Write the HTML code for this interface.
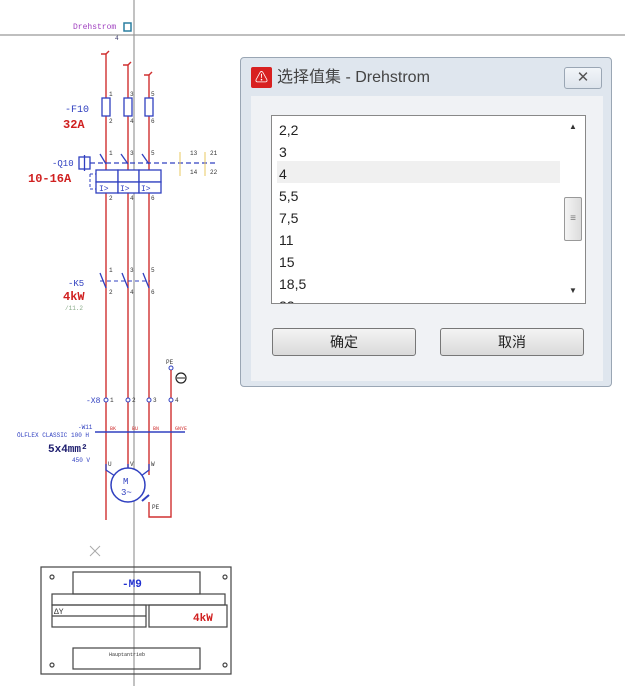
<!DOCTYPE html>
<html><head><meta charset="utf-8"><style>
body{margin:0;width:625px;height:686px;background:#fff;overflow:hidden;position:relative;font-family:"Liberation Sans","Noto Sans CJK SC",sans-serif}
svg{position:absolute;left:0;top:0}
</style></head><body>
<svg width="625" height="686" viewBox="0 0 625 686" font-family="Liberation Mono, monospace">
<line x1="0" y1="35" x2="625" y2="35" stroke="#999" stroke-width="1.2"/>
<line x1="134" y1="0" x2="134" y2="686" stroke="#999" stroke-width="1.2"/>
<text x="73" y="29" font-size="8" fill="#a040c0">Drehstrom</text>
<rect x="124" y="23" width="7" height="8" fill="none" stroke="#2a7fa0" stroke-width="1.5"/>
<text x="115" y="40" font-size="6" fill="#336">4</text>
<g stroke="#d03030" stroke-width="1.4" fill="none">
<path d="M101 54 L106 54 L106 520"/><path d="M106 54 L109 51"/>
<path d="M123 65 L128 65 L128 470"/><path d="M128 65 L131 62"/>
<path d="M144 75 L149 75 L149 475"/><path d="M149 75 L152 72"/>
<path d="M171 400 L171 517 L149 517 L149 502"/>
</g>
<g stroke="#3040c0" stroke-width="1.3" fill="#fff">
<rect x="102" y="98" width="8" height="18"/><rect x="124" y="98" width="8" height="18"/><rect x="145" y="98" width="8" height="18"/>
</g>
<g font-size="6" fill="#333"><text x="109" y="96">1</text><text x="130" y="96">3</text><text x="151" y="96">5</text>
<text x="109" y="123">2</text><text x="130" y="123">4</text><text x="151" y="123">6</text></g>
<text x="65" y="112" font-size="10" fill="#3040c0">-F10</text>
<text x="63" y="128" font-size="12" font-weight="bold" fill="#d02020">32A</text>
<line x1="90" y1="163" x2="216" y2="163" stroke="#3040c0" stroke-width="1.3" stroke-dasharray="5,3"/>
<rect x="79" y="157" width="11" height="12" fill="#fff" stroke="#3040c0" stroke-width="1.3"/>
<line x1="84.5" y1="155" x2="84.5" y2="171" stroke="#3040c0" stroke-width="1.3"/>
<text x="52" y="166" font-size="9" fill="#3040c0">-Q10</text>
<text x="28" y="182" font-size="12" font-weight="bold" fill="#d02020">10-16A</text>
<g stroke="#3040c0" stroke-width="1.3">
<line x1="100" y1="154" x2="106" y2="164"/><line x1="121" y1="154" x2="128" y2="164"/><line x1="142" y1="154" x2="149" y2="164"/>
</g>
<g fill="#fff" stroke="#3040c0" stroke-width="1.3">
<rect x="96" y="170" width="22" height="12"/><rect x="118" y="170" width="21" height="12"/><rect x="139" y="170" width="22" height="12"/>
<rect x="96" y="182" width="22" height="11"/><rect x="118" y="182" width="21" height="11"/><rect x="139" y="182" width="22" height="11"/>
</g>
<path d="M90 174 L96 174 M90 174 L90 189 L96 189" stroke="#3040c0" stroke-dasharray="3,2" fill="none"/>
<g font-size="8" fill="#3040c0"><text x="99" y="191">I&gt;</text><text x="120" y="191">I&gt;</text><text x="141" y="191">I&gt;</text></g>
<g font-size="6" fill="#333"><text x="109" y="155">1</text><text x="130" y="155">3</text><text x="151" y="155">5</text>
<text x="109" y="200">2</text><text x="130" y="200">4</text><text x="151" y="200">6</text>
<text x="190" y="155">13</text><text x="210" y="155">21</text><text x="190" y="174">14</text><text x="210" y="174">22</text></g>
<g stroke="#e8c860" stroke-width="1"><line x1="180" y1="152" x2="180" y2="176"/><line x1="205" y1="152" x2="205" y2="176"/></g>
<line x1="100" y1="281" x2="150" y2="281" stroke="#3040c0" stroke-dasharray="4,3"/>
<g stroke="#3040c0" stroke-width="1.3" fill="none"><line x1="100" y1="273" x2="106" y2="288"/><line x1="122" y1="273" x2="128" y2="288"/><line x1="143" y1="273" x2="149" y2="288"/></g>
<g font-size="6" fill="#333"><text x="109" y="272">1</text><text x="130" y="272">3</text><text x="151" y="272">5</text>
<text x="109" y="294">2</text><text x="130" y="294">4</text><text x="151" y="294">6</text></g>
<text x="68" y="286" font-size="9" fill="#3040c0">-K5</text>
<text x="63" y="300" font-size="12" font-weight="bold" fill="#d02020">4kW</text>
<text x="65" y="310" font-size="6" fill="#8a8">/11.2</text>
<text x="166" y="364" font-size="6" fill="#333">PE</text>
<circle cx="171" cy="368" r="2" fill="#fff" stroke="#3040c0"/>
<line x1="171" y1="370" x2="171" y2="400" stroke="#d03030" stroke-width="1.4"/>
<circle cx="181" cy="378" r="5" fill="#fff" stroke="#222" stroke-width="1.2"/>
<line x1="177" y1="378" x2="185" y2="378" stroke="#222"/>
<text x="86" y="403" font-size="8" fill="#3040c0">-X8</text>
<g fill="#fff" stroke="#3040c0"><circle cx="106" cy="400" r="2"/><circle cx="128" cy="400" r="2"/><circle cx="149" cy="400" r="2"/><circle cx="171" cy="400" r="2"/></g>
<g font-size="6" fill="#333"><text x="110" y="402">1</text><text x="132" y="402">2</text><text x="153" y="402">3</text><text x="175" y="402">4</text></g>
<line x1="95" y1="432" x2="185" y2="432" stroke="#3040c0" stroke-width="1.5"/>
<g font-size="5" fill="#d03030"><text x="110" y="430">BK</text><text x="132" y="430">BU</text><text x="153" y="430">BN</text><text x="175" y="430">GNYE</text></g>
<text x="78" y="429" font-size="6" fill="#3040c0">-W11</text>
<text x="17" y="437" font-size="6" fill="#3040c0">ÖLFLEX CLASSIC 100 H</text>
<text x="48" y="452" font-size="11" font-weight="bold" fill="#202070">5x4mm²</text>
<text x="72" y="462" font-size="6" fill="#3040c0">450 V</text>
<g stroke="#3040c0" stroke-width="1.3" fill="none"><path d="M106 464 L106 470 L115 476"/><path d="M128 464 L128 468"/><path d="M149 464 L149 470 L141 476"/></g>
<g font-size="6" fill="#333"><text x="108" y="466">U</text><text x="130" y="466">V</text><text x="151" y="466">W</text></g>
<circle cx="128" cy="485" r="17" fill="#fff" stroke="#3040c0" stroke-width="1.5"/>
<text x="123" y="484" font-size="9" fill="#3040c0">M</text><text x="121" y="495" font-size="9" fill="#3040c0">3~</text>
<line x1="142" y1="501" x2="149" y2="495" stroke="#3040c0" stroke-width="2"/>
<text x="152" y="509" font-size="6" fill="#333">PE</text>
<g stroke="#aaa"><line x1="90" y1="546" x2="100" y2="556"/><line x1="100" y1="546" x2="90" y2="556"/></g>
<g fill="none" stroke="#444" stroke-width="1.2">
<rect x="41" y="567" width="190" height="107"/>
<rect x="73" y="572" width="127" height="22"/>
<rect x="52" y="594" width="173" height="11"/>
<rect x="52" y="605" width="94" height="22"/><line x1="52" y1="616" x2="146" y2="616"/>
<rect x="149" y="605" width="78" height="22"/>
<rect x="73" y="648" width="127" height="21"/>
<circle cx="52" cy="577" r="2"/><circle cx="225" cy="577" r="2"/><circle cx="52" cy="665" r="2"/><circle cx="225" cy="665" r="2"/>
</g>
<text x="122" y="587" font-size="11" font-weight="bold" fill="#2030d0">-M9</text>
<text x="54" y="614" font-size="8" fill="#333">ΔY</text>
<text x="193" y="621" font-size="11" font-weight="bold" fill="#d02020">4kW</text>
<text x="109" y="656" font-size="5" fill="#333">Hauptantrieb</text>
</svg>

<div style="position:absolute;left:240px;top:57px;width:372px;height:330px;background:#dfe6ee;border:1px solid #9aa6b4;border-radius:4px;box-sizing:border-box">
 <div style="position:absolute;left:10px;top:9px;width:21px;height:21px;background:#d82020;border-radius:2px;color:#fff;font-size:13px;text-align:center;line-height:21px">⚠</div>
 <div style="position:absolute;left:36px;top:9px;font-size:16px;color:#444;line-height:21px">选择值集 - Drehstrom</div>
 <div style="position:absolute;left:323px;top:9px;width:38px;height:22px;border:1px solid #9aa6b4;border-radius:3px;background:linear-gradient(#f2f5f9,#dde4ec);box-sizing:border-box;text-align:center;font-size:15px;line-height:19px;color:#555">✕</div>
 <div style="position:absolute;left:10px;top:38px;width:352px;height:285px;background:#f0f2f5"></div>
 <div style="position:absolute;left:30px;top:57px;width:315px;height:189px;background:#fff;border:1px solid #888;box-sizing:border-box;overflow:hidden;font-size:14px;color:#222">
  <div style="position:absolute;left:5px;top:45px;width:283px;height:22px;background:#f0f0f0"></div>
  <div style="position:absolute;left:7px;top:3px;line-height:22px">2,2<br>3<br>4<br>5,5<br>7,5<br>11<br>15<br>18,5<br>22</div>
  <div style="position:absolute;left:293px;top:0;width:20px;height:187px;background:#fff"></div>
  <div style="position:absolute;left:297px;top:6px;font-size:8px;color:#333">▲</div>
  <div style="position:absolute;left:297px;top:170px;font-size:8px;color:#333">▼</div>
  <div style="position:absolute;left:292px;top:81px;width:18px;height:44px;border:1px solid #999;border-radius:2px;background:linear-gradient(90deg,#f4f4f4,#dcdcdc);box-sizing:border-box;text-align:center;font-size:10px;line-height:42px;color:#777">≡</div>
 </div>
 <div style="position:absolute;left:31px;top:270px;width:144px;height:28px;border:1px solid #777;border-radius:3px;background:linear-gradient(#f4f4f4,#dadada);box-sizing:border-box;text-align:center;line-height:26px;font-size:14px;color:#222">确定</div>
 <div style="position:absolute;left:199px;top:270px;width:144px;height:28px;border:1px solid #777;border-radius:3px;background:linear-gradient(#f4f4f4,#dadada);box-sizing:border-box;text-align:center;line-height:26px;font-size:14px;color:#222">取消</div>
</div>
</body></html>
